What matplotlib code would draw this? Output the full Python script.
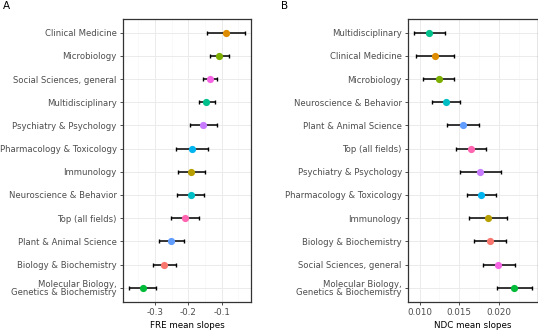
import matplotlib
matplotlib.use("Agg")
import matplotlib.pyplot as plt
from matplotlib.ticker import MultipleLocator

# ---- data ----
# Panel A (FRE), listed top -> bottom
fre_fields = ["Clinical Medicine", "Microbiology", "Social Sciences, general",
              "Multidisciplinary", "Psychiatry & Psychology", "Pharmacology & Toxicology",
              "Immunology", "Neuroscience & Behavior", "Top (all fields)",
              "Plant & Animal Science", "Biology & Biochemistry",
              "Molecular Biology,\nGenetics & Biochemistry"]
fre_mean = [-0.087, -0.107, -0.135, -0.146, -0.157, -0.190, -0.191, -0.193, -0.210, -0.251, -0.273, -0.337]
fre_lo = [-0.144, -0.134, -0.156, -0.169, -0.196, -0.238, -0.230, -0.234, -0.252, -0.289, -0.307, -0.378]
fre_hi = [-0.030, -0.078, -0.113, -0.121, -0.115, -0.142, -0.151, -0.153, -0.169, -0.213, -0.237, -0.297]

# Panel B (NDC), listed top -> bottom
ndc_fields = ["Multidisciplinary", "Clinical Medicine", "Microbiology",
              "Neuroscience & Behavior", "Plant & Animal Science", "Top (all fields)",
              "Psychiatry & Psychology", "Pharmacology & Toxicology", "Immunology",
              "Biology & Biochemistry", "Social Sciences, general",
              "Molecular Biology,\nGenetics & Biochemistry"]
ndc_mean = [0.01122, 0.01189, 0.01239, 0.01328, 0.01546, 0.01647, 0.01764, 0.01777, 0.01861, 0.01886, 0.01991, 0.02193]
ndc_lo = [0.00928, 0.00950, 0.01046, 0.01159, 0.01348, 0.01462, 0.01504, 0.01600, 0.01621, 0.01681, 0.01794, 0.01978]
ndc_hi = [0.01319, 0.01428, 0.01432, 0.01504, 0.01744, 0.01836, 0.02025, 0.01958, 0.02104, 0.02092, 0.02198, 0.02412]

field_colors = {
    "Biology & Biochemistry": "#F8766D",
    "Clinical Medicine": "#DE8C00",
    "Immunology": "#B79F00",
    "Microbiology": "#7CAE00",
    "Molecular Biology,\nGenetics & Biochemistry": "#00BA38",
    "Multidisciplinary": "#00C08B",
    "Neuroscience & Behavior": "#00BFC4",
    "Pharmacology & Toxicology": "#00B4F0",
    "Plant & Animal Science": "#619CFF",
    "Psychiatry & Psychology": "#C77CFF",
    "Social Sciences, general": "#F564E3",
    "Top (all fields)": "#FF64B0",
}

W, H = 538, 332
fig = plt.figure(figsize=(W / 100, H / 100), dpi=100)
plt.rcParams['font.family'] = ['DejaVu Sans']

FS = 6.3
FSY = 6.1


def panel(rect, fields, mean, lo, hi, xlabel, major, minor, fmt, letter, letter_x):
    ax = fig.add_axes(rect)
    n = len(fields)
    ys = list(range(n, 0, -1))
    for y, f, m, l, h in zip(ys, fields, mean, lo, hi):
        ax.errorbar([m], [y], xerr=[[m - l], [h - m]], fmt='none', ecolor='black',
                    elinewidth=1.1, capsize=1.6, capthick=1.0, zorder=3)
        ax.plot([m], [y], 'o', color=field_colors[f], ms=5.2, mec='none', zorder=4)
    allv = list(lo) + list(hi)
    vmin, vmax = min(allv), max(allv)
    pad = 0.05 * (vmax - vmin)
    ax.set_xlim(vmin - pad, vmax + pad)
    ax.set_ylim(0.4, n + 0.6)
    ax.set_yticks(ys)
    ax.set_yticklabels(fields, fontsize=FSY, color='#4D4D4D', linespacing=0.9)
    ax.xaxis.set_major_locator(MultipleLocator(major))
    ax.xaxis.set_minor_locator(MultipleLocator(minor))
    ax.xaxis.set_major_formatter(plt.FuncFormatter(lambda v, p: fmt.format(v)))
    ax.tick_params(axis='x', labelsize=FS, labelcolor='#4D4D4D', length=2.5, width=0.6,
                   color='#333333', pad=2)
    ax.tick_params(axis='y', length=2.5, width=0.6, color='#333333', pad=2)
    ax.tick_params(axis='x', which='minor', length=0)
    ax.grid(True, which='major', color='#EBEBEB', lw=0.7, zorder=0)
    ax.grid(True, which='minor', axis='x', color='#F5F5F5', lw=0.4, zorder=0)
    ax.set_axisbelow(True)
    for s in ax.spines.values():
        s.set_color('#333333')
        s.set_linewidth(0.9)
    ax.set_xlabel(xlabel, fontsize=FS, labelpad=3)
    fig.text(letter_x, 1 - 6 / H, letter, fontsize=7.5, va='center', ha='left')
    return ax


panel([123 / W, 30.3 / H, 128 / W, 283 / H], fre_fields, fre_mean, fre_lo, fre_hi,
      "FRE mean slopes", 0.1, 0.05, "{:.1f}", "A", 3 / W)
panel([408 / W, 30.3 / H, 129.5 / W, 283 / H], ndc_fields, ndc_mean, ndc_lo, ndc_hi,
      "NDC mean slopes", 0.005, 0.0025, "{:.3f}", "B", 281 / W)

fig.savefig("out.png", dpi=100)
